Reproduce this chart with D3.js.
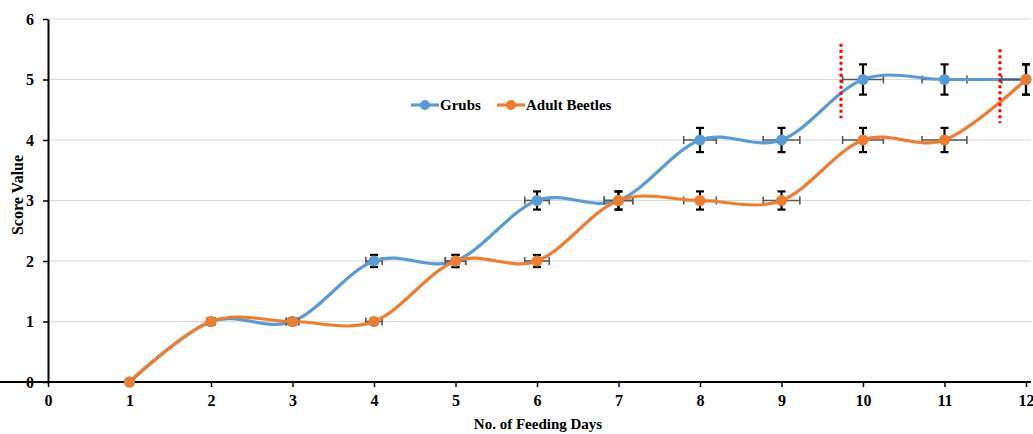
<!DOCTYPE html>
<html>
<head>
<meta charset="utf-8">
<script src="https://cdn.jsdelivr.net/npm/d3@7"></script>
<style>
  body { margin: 0; background: #fff; }
  text { font-family: "Liberation Serif", "Times New Roman", serif; font-weight: bold; fill: #000; }
</style>
</head>
<body>
<div id="chart"></div>
<script>
// Data.
const days = [1, 2, 3, 4, 5, 6, 7, 8, 9, 10, 11, 12];
const grubs = [0, 1, 1, 2, 2, 3, 3, 4, 4, 5, 5, 5];
const beetles = [0, 1, 1, 1, 2, 2, 3, 3, 3, 4, 4, 5];
const grubsErr = [0, 0.05, 0.05, 0.1, 0.1, 0.15, 0.15, 0.2, 0.2, 0.25, 0.25, 0.25];
const beetlesErr = [0, 0.05, 0.05, 0.05, 0.1, 0.1, 0.15, 0.15, 0.15, 0.2, 0.2, 0.25];
const dayErr = [0.025, 0.05, 0.075, 0.1, 0.125, 0.15, 0.175, 0.2, 0.225, 0.25, 0.275, 0.3];
const xTicks = [0, 1, 2, 3, 4, 5, 6, 7, 8, 9, 10, 11, 12];
const yTicks = [0, 1, 2, 3, 4, 5, 6];
// red dotted markers (in data units)
const markers = [
    { day: 9.73, from: 4.36, to: 5.59 },
    { day: 11.68, from: 4.28, to: 5.5 },
];

const Width = 1033, Height = 434;
const Margin = { top: 19, right: 7, bottom: 52, left: 48 };
const PlotRight = 1031;

const x = d3.scaleLinear().domain([0, 12]).range([Margin.left, Width - Margin.right]);
const y = d3.scaleLinear().domain([0, 6]).range([Height - Margin.bottom, Margin.top]);

const svg = d3.select("#chart").append("svg")
    .attr("width", Width)
    .attr("height", Height);

svg.append("clipPath").attr("id", "plot")
    .append("rect")
        .attr("x", Margin.left)
        .attr("y", 0)
        .attr("width", PlotRight - Margin.left)
        .attr("height", Height - Margin.bottom);

// Gridlines.
svg.append("g")
    .selectAll("line")
    .data(yTicks.filter(d => d > 0))
    .join("line")
        .attr("x1", Margin.left)
        .attr("x2", PlotRight)
        .attr("y1", d => y(d))
        .attr("y2", d => y(d))
        .attr("stroke", "#d9d9d9")
        .attr("stroke-width", 1.2);

// Axes.
const xAxis = svg.append("g")
    .attr("transform", `translate(0,${y(0)})`)
    .call(d3.axisBottom(x).tickValues(xTicks).tickFormat(d3.format("d"))
        .tickSize(5).tickSizeOuter(0).tickPadding(8));
const yAxis = svg.append("g")
    .attr("transform", `translate(${Margin.left},0)`)
    .call(d3.axisLeft(y).tickValues(yTicks).tickFormat(d3.format("d"))
        .tickSize(5).tickSizeOuter(0).tickPadding(9));
[xAxis, yAxis].forEach(a => {
    a.select(".domain").attr("stroke", "#000").attr("stroke-width", 2);
    a.selectAll(".tick line").attr("stroke", "#000").attr("stroke-width", 1.5);
    a.selectAll(".tick text").style("font-size", "16px");
});
xAxis.select(".domain").attr("d", `M0,0H${PlotRight}`);

const plot = svg.append("g").attr("clip-path", "url(#plot)");
const curve = d3.line()
    .x(d => x(d.day))
    .y(d => y(d.v))
    .curve(d3.curveCardinal.tension(0));

const drawSeries = (values, errs, color) => {
    const data = days.map((day, i) => ({ day, v: values[i], e: errs[i], h: dayErr[i] }));
    const bars = plot.append("g");
    // horizontal error bars
    const hb = bars.selectAll("g.h").data(data.filter(d => d.day > 1)).join("g");
    hb.append("line")
        .attr("x1", d => x(d.day - d.h)).attr("x2", d => x(d.day + d.h))
        .attr("y1", d => y(d.v)).attr("y2", d => y(d.v));
    hb.append("line")
        .attr("x1", d => x(d.day - d.h)).attr("x2", d => x(d.day - d.h))
        .attr("y1", d => y(d.v) - 4).attr("y2", d => y(d.v) + 4);
    hb.append("line")
        .attr("x1", d => x(d.day + d.h)).attr("x2", d => x(d.day + d.h))
        .attr("y1", d => y(d.v) - 4).attr("y2", d => y(d.v) + 4);
    hb.selectAll("line").attr("stroke", "#595959").attr("stroke-width", 1.6);
    // vertical error bars
    const vb = bars.selectAll("g.v").data(data.filter(d => d.e > 0)).join("g");
    vb.append("line")
        .attr("x1", d => x(d.day)).attr("x2", d => x(d.day))
        .attr("y1", d => y(d.v - d.e)).attr("y2", d => y(d.v + d.e));
    vb.append("line")
        .attr("x1", d => x(d.day) - 4).attr("x2", d => x(d.day) + 4)
        .attr("y1", d => y(d.v - d.e)).attr("y2", d => y(d.v - d.e));
    vb.append("line")
        .attr("x1", d => x(d.day) - 4).attr("x2", d => x(d.day) + 4)
        .attr("y1", d => y(d.v + d.e)).attr("y2", d => y(d.v + d.e));
    vb.selectAll("line").attr("stroke", "#000").attr("stroke-width", 2.2);
    // line
    plot.append("path")
        .datum(data)
        .attr("d", curve)
        .attr("fill", "none")
        .attr("stroke", color)
        .attr("stroke-width", 3.2);
    // markers
    svg.append("g")
        .selectAll("circle")
        .data(data)
        .join("circle")
            .attr("cx", d => x(d.day))
            .attr("cy", d => y(d.v))
            .attr("r", 5.5)
            .attr("fill", color);
};

drawSeries(grubs, grubsErr, "#5b9bd5");
drawSeries(beetles, beetlesErr, "#ed7d31");

// Red dotted markers.
svg.append("g")
    .selectAll("line")
    .data(markers)
    .join("line")
        .attr("x1", d => x(d.day)).attr("x2", d => x(d.day))
        .attr("y1", d => y(d.to)).attr("y2", d => y(d.from))
        .attr("stroke", "#ff0000")
        .attr("stroke-width", 3)
        .attr("stroke-dasharray", "3,3");

// Legend.
const legend = svg.append("g").attr("transform", "translate(411,105)");
[["Grubs", "#5b9bd5", 0], ["Adult Beetles", "#ed7d31", 86]].forEach(([name, color, dx]) => {
    const g = legend.append("g").attr("transform", `translate(${dx},0)`);
    g.append("line").attr("x1", 0).attr("x2", 28)
        .attr("stroke", color).attr("stroke-width", 3.2);
    g.append("circle").attr("cx", 14).attr("r", 5).attr("fill", color);
    g.append("text").attr("x", 29).attr("y", 5)
        .style("font-size", "15px").text(name);
});

// Axis titles.
svg.append("text")
    .attr("x", 538)
    .attr("y", 429)
    .attr("text-anchor", "middle")
    .style("font-size", "15px")
    .text("No. of Feeding Days");
svg.append("text")
    .attr("transform", "translate(23,195) rotate(-90)")
    .attr("text-anchor", "middle")
    .style("font-size", "16px")
    .text("Score Value");
</script>
</body>
</html>
